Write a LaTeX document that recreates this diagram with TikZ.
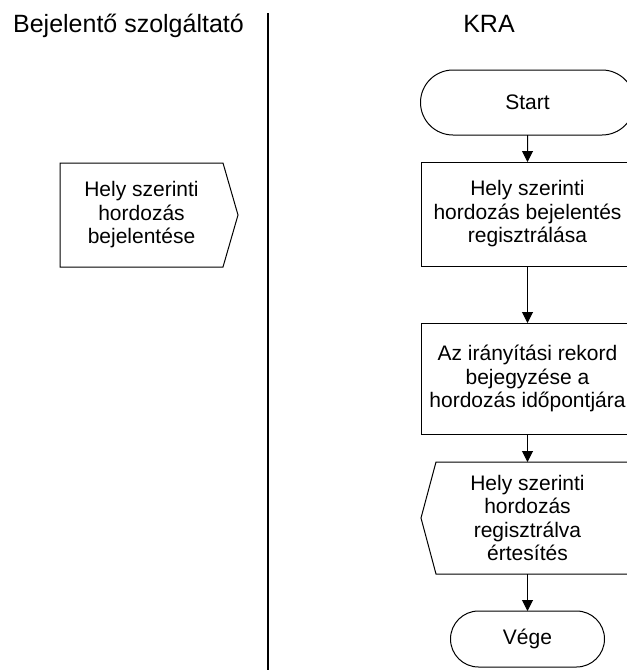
\documentclass[tikz,border=0pt]{standalone}
\usepackage{fontspec}
\setmainfont{Liberation Sans}
\usetikzlibrary{arrows.meta,shapes.misc}
\begin{document}
\begin{tikzpicture}[x=1pt,y=-1pt,
  txt/.style={font=\fontsize{21}{23.5}\selectfont, align=center, inner sep=0pt, outer sep=0pt},
  hdr/.style={font=\fontsize{25}{28}\selectfont, inner sep=0pt, anchor=base},
  outline/.style={draw=black, line width=1pt, line join=miter},
  proc/.style={txt, outline},
  term/.style={txt, outline, rounded rectangle},
  ghost/.style={txt, draw=none},
  flow/.style={draw=black, line width=1pt, -{Triangle[length=11pt,width=11pt]}},
  lane/.style={draw=black, line width=1.3pt}
]
\useasboundingbox (0,0) rectangle (627,670);

% headers and lane divider
\node[hdr] (hdrA) at (128.5,32) {Bejelentő szolgáltató};
\node[hdr] (hdrB) at (489,32.5) {KRA};
\coordinate (laneTop) at (268,13);
\coordinate (laneBot) at (268,672);
\draw[lane] (laneTop) -- (laneBot);

% left lane: notification (pentagon pointing right)
\node[ghost, minimum width=163pt, minimum height=104pt] (notif) at (141.5,215) {Hely szerinti\\hordozás\\bejelentése};
\draw[outline] (notif.north west) -- (notif.north east) -- ([xshift=15pt]notif.east) -- (notif.south east) -- (notif.south west) -- cycle;

% right lane
\node[term, minimum width=214pt, minimum height=65pt] (start) at (527.5,102.5) {Start};
\node[proc, minimum width=212pt, minimum height=104pt] (reg) at (527.5,214) {Hely szerinti\\hordozás bejelentés\\regisztrálása};
\node[proc, minimum width=213pt, minimum height=111pt] (rec) at (527.5,378.5) {Az irányítási rekord\\bejegyzése a\\hordozás időpontjára};
\node[ghost, minimum width=190pt, minimum height=112pt] (disp) at (527.5,518) {Hely szerinti\\hordozás\\regisztrálva\\értesítés};
\coordinate (dispTip) at ([xshift=-11.5pt]disp.west);
\coordinate (dispNW) at ([xshift=3.5pt]disp.north west);
\coordinate (dispSW) at ([xshift=3.5pt]disp.south west);
\draw[outline] (dispTip) -- (dispNW) -- ([xshift=20pt]disp.north east) -- ([xshift=20pt]disp.south east) -- (dispSW) -- cycle;
\node[term, minimum width=154pt, minimum height=56pt] (end) at (527.5,639) {Vége};

% connectors
\draw[flow] (start) -- (reg);
\draw[flow] (reg) -- (rec);
\draw[flow] (rec) -- (disp);
\draw[flow] (disp) -- (end);
\end{tikzpicture}
\end{document}
